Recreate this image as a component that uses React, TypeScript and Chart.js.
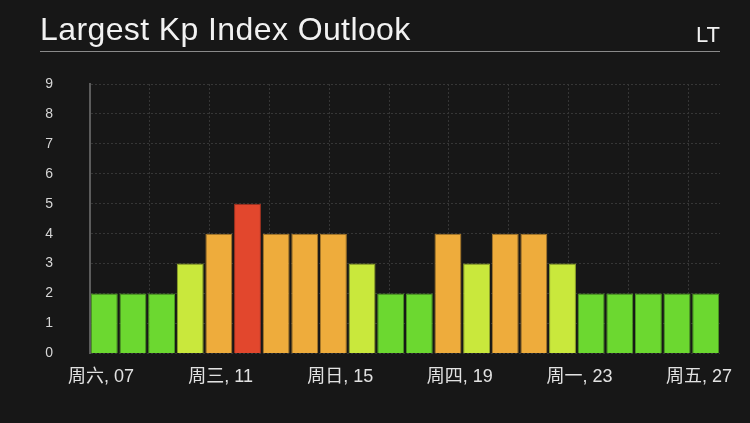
import React, { useEffect, useRef } from 'react';
import { Chart, registerables } from 'chart.js';

Chart.register(...registerables);

// ---- data ----
const periods = ['1', '2', '3', '4', '5', '6', '7', '8', '9', '10', '11', '12', '13', '14', '15', '16', '17', '18', '19', '20', '21', '22'];
const kpValues = [2, 2, 2, 3, 4, 5, 4, 4, 4, 3, 2, 2, 4, 3, 4, 4, 3, 2, 2, 2, 2, 2];

const xTickDays = [7, 11, 15, 19, 23, 27];
const xTickLabels = ['周六, 07', '周三, 11', '周日, 15', '周四, 19', '周一, 23', '周五, 27'];
const xGridDays = [8.63, 10.63, 12.63, 14.63, 16.63, 18.63, 20.63, 22.63, 24.63, 26.63];
const xMin = 6.63;
const xMax = 27.7;

const yMin = 0;
const yMax = 9;

// ---- styles ----
const levelFill: Record<number, string> = { 2: '#6cd830', 3: '#c9e83c', 4: '#eeac3c', 5: '#e2472d' };
const levelBorder: Record<number, string> = { 2: '#4c9a22', 3: '#8fa62a', 4: '#a8792a', 5: '#a03220' };
const BG = '#171717';

export default function App() {
  const canvasRef = useRef<HTMLCanvasElement | null>(null);

  useEffect(() => {
    document.body.style.margin = '0';
    document.body.style.background = BG;
    const canvas = canvasRef.current;
    if (!canvas) return;
    const chart = new Chart(canvas, {
      type: 'bar',
      data: {
        labels: periods,
        datasets: [
          {
            data: kpValues,
            xAxisID: 'x',
            yAxisID: 'y',
            backgroundColor: (ctx: any) => levelFill[kpValues[ctx.dataIndex]] || '#6cd830',
            borderColor: (ctx: any) => levelBorder[kpValues[ctx.dataIndex]] || '#4c9a22',
            borderWidth: 1,
            barPercentage: 0.94,
            categoryPercentage: 1,
          },
        ],
      },
      options: {
        responsive: false,
        animation: false,
        devicePixelRatio: 1,
        layout: { padding: { left: 0, right: 30, top: 84, bottom: 22 } },
        plugins: {
          legend: { display: false },
          tooltip: { enabled: false },
        },
        scales: {
          x: {
            type: 'category',
            display: false,
            offset: true,
          },
          xt: {
            type: 'linear',
            position: 'bottom',
            min: xMin,
            max: xMax,
            offset: false,
            afterBuildTicks: (scale: any) => {
              const vals = [...xGridDays, ...xTickDays].sort((a, b) => a - b);
              scale.ticks = vals.map((v) => ({ value: v }));
            },
            ticks: {
              autoSkip: false,
              maxRotation: 0,
              minRotation: 0,
              padding: 13,
              color: '#e2e2e2',
              font: { size: 18, family: '"Liberation Sans", "Noto Sans CJK SC", sans-serif' },
              callback: (value: any) => {
                const i = xTickDays.indexOf(Number(value));
                return i >= 0 ? xTickLabels[i] : '';
              },
            },
            grid: {
              offset: false,
              drawTicks: false,
              lineWidth: 1,
              color: (ctx: any) =>
                ctx.tick && xGridDays.includes(ctx.tick.value) ? '#363636' : 'rgba(0,0,0,0)',
            },
            border: { display: false, dash: [2, 2] },
          },
          y: {
            type: 'linear',
            min: yMin,
            max: yMax,
            afterFit: (scale: any) => {
              scale.width = 90;
            },
            ticks: {
              stepSize: 1,
              padding: 37,
              color: '#d6d6d6',
              font: { size: 14, family: '"Liberation Sans", sans-serif' },
            },
            grid: {
              drawTicks: false,
              color: '#363636',
              lineWidth: 1,
            },
            border: { display: true, color: '#5c5c5c', width: 2, dash: [2, 2] },
          },
        },
      },
    } as any);
    return () => chart.destroy();
  }, []);

  return (
    <div style={{ position: 'relative', width: 750, height: 423, background: BG, overflow: 'hidden' }}>
      <canvas ref={canvasRef} width={750} height={423} style={{ position: 'absolute', left: 0, top: 0 }} />
      <div
        style={{
          position: 'absolute',
          left: 40,
          top: 0,
          width: 680,
          height: 51,
          borderBottom: '1px solid #8a8a8a',
        }}
      />
      <div
        style={{
          position: 'absolute',
          left: 40,
          top: 13,
          fontFamily: '"Liberation Sans", sans-serif',
          fontSize: 32,
          lineHeight: '32px',
          letterSpacing: '0.4px',
          color: '#f2f2f2',
          whiteSpace: 'nowrap',
        }}
      >
        Largest Kp Index Outlook
      </div>
      <div
        style={{
          position: 'absolute',
          right: 30,
          top: 24,
          fontFamily: '"Liberation Sans", sans-serif',
          fontSize: 22,
          lineHeight: '22px',
          color: '#f2f2f2',
          whiteSpace: 'nowrap',
        }}
      >
        LT
      </div>
    </div>
  );
}
